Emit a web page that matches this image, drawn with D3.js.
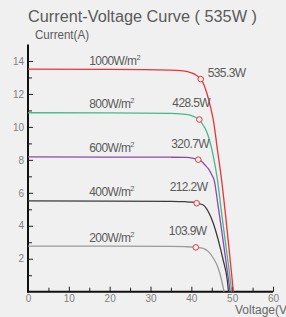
<!DOCTYPE html>
<meta charset="utf-8">
<style>
body { margin: 0; background: #f0f0f0; }
svg { display: block; font-family: "Liberation Sans", Arial, sans-serif; }
.tick text { fill: #808080; font-size: 10px; }
.lbl { fill: #5a5a5a; font-size: 12px; letter-spacing: -0.6px; }
</style>
<body>
<svg width="286" height="317"></svg>
<script src="https://cdnjs.cloudflare.com/ajax/libs/d3/7.8.5/d3.min.js"></script>
<script>

// irradiance series
var irradiance = ["1000", "800", "600", "400", "200"];
var colors = ["#e8343c", "#45b98b", "#8c4aa6", "#3a3a3a", "#9a9a9a"];
var power = ["535.3W", "428.5W", "320.7W", "212.2W", "103.9W"];

// I-V points
var volts1000 = [0, 20, 35, 38, 40, 41.3, 42.3, 43.1, 43.8, 44.7, 45.4, 46.4, 47.4, 48.4, 49.4, 50.3];
var amps1000  = [13.5, 13.49, 13.45, 13.4, 13.28, 13.12, 12.9, 12.55, 12.04, 11.2, 10.4, 8.6, 6.8, 4.6, 2.2, 0];
var volts800 = [0, 20, 35, 38, 39.7, 40.9, 41.96, 42.9, 43.6, 44.2, 45.4, 46.4, 47.4, 48.4, 49.2, 49.9];
var amps800  = [10.86, 10.85, 10.82, 10.77, 10.72, 10.6, 10.45, 10.1, 9.8, 9.4, 8.2, 6.78, 4.8, 2.9, 1.4, 0];
var volts600 = [0, 20, 35, 38.9, 40.5, 41.7, 42.6, 43.3, 44.2, 45.0, 45.6, 46.5, 47.5, 48.5, 49.5];
var amps600  = [8.18, 8.17, 8.16, 8.15, 8.09, 8.01, 7.88, 7.7, 7.45, 7.1, 6.75, 5.3, 3.6, 1.8, 0];
var volts400 = [0, 20, 35, 38.5, 40.3, 41.3, 42.9, 44.2, 45.4, 46.6, 47.8, 48.8, 49.1];
var amps400  = [5.51, 5.5, 5.48, 5.46, 5.43, 5.37, 5.26, 4.84, 4.14, 3.13, 1.92, 0.71, 0];
var volts200 = [0, 20, 35, 38.5, 40.3, 41.1, 42.9, 44.2, 45.4, 46.6, 47.4, 48.0];
var amps200  = [2.77, 2.76, 2.75, 2.73, 2.71, 2.69, 2.63, 2.43, 2.03, 1.42, 0.71, 0];

// max power points
var mpVolts = [42.3, 41.96, 41.7, 41.3, 41.1];
var mpAmps  = [12.9, 10.45, 8.01, 5.37, 2.69];

var xTicks = [0, 10, 20, 30, 40, 50, 60];
var yTicks = [2, 4, 6, 8, 10, 12, 14];

var curves = [
  [volts1000, amps1000], [volts800, amps800], [volts600, amps600],
  [volts400, amps400], [volts200, amps200]
];

var svg = d3.select("svg");

var x = d3.scaleLinear().domain([0, 60]).range([28, 273]);
var y = d3.scaleLinear().domain([0, 15]).range([291.7, 44.5]);

// title + axis names
svg.append("text")
    .attr("x", 28).attr("y", 22)
    .attr("textLength", 229).attr("lengthAdjust", "spacingAndGlyphs")
    .style("font-size", "16px").style("fill", "#5a5a5a")
    .text("Current-Voltage Curve ( 535W )");

svg.append("text")
    .attr("x", 35).attr("y", 39)
    .attr("textLength", 54).attr("lengthAdjust", "spacingAndGlyphs")
    .style("font-size", "12px").style("fill", "#5a5a5a")
    .text("Current(A)");

svg.append("text")
    .attr("x", 235).attr("y", 314)
    .style("font-size", "12px").style("fill", "#666")
    .text("Voltage(V)");

// minor ticks
svg.append("g")
    .attr("transform", "translate(0,291.7)")
    .call(d3.axisTop(x).tickValues(d3.range(5, 60, 10)).tickSize(4).tickFormat(""))
    .call(g => g.select(".domain").remove())
    .selectAll("line").attr("stroke", "#222");

svg.append("g")
    .attr("transform", "translate(28,0)")
    .call(d3.axisRight(y).tickValues(d3.range(1, 15, 2)).tickSize(4).tickFormat(""))
    .call(g => g.select(".domain").remove())
    .selectAll("line").attr("stroke", "#222");

// major ticks
var xAxis = svg.append("g")
    .attr("transform", "translate(0,291.7)")
    .call(d3.axisTop(x).tickValues(xTicks).tickSize(5).tickPadding(0));
xAxis.select(".domain").remove();
xAxis.selectAll(".tick line").attr("stroke", "#222");
xAxis.selectAll(".tick text").attr("y", 10).attr("dy", "0");

var yAxis = svg.append("g")
    .attr("transform", "translate(28,0)")
    .call(d3.axisRight(y).tickValues(yTicks).tickSize(5));
yAxis.select(".domain").remove();
yAxis.selectAll(".tick line").attr("stroke", "#222");
yAxis.selectAll(".tick text").attr("x", -4).attr("text-anchor", "end");

// axis lines
svg.append("line")
    .attr("x1", x(0)).attr("x2", x(0)).attr("y1", y(15)).attr("y2", y(0) + 1)
    .attr("stroke", "#111").attr("stroke-width", 2);
svg.append("line")
    .attr("x1", x(0) - 1).attr("x2", x(60)).attr("y1", y(0)).attr("y2", y(0))
    .attr("stroke", "#111").attr("stroke-width", 2);

var line = d3.line()
    .x(d => x(d[0]))
    .y(d => y(d[1]))
    .curve(d3.curveMonotoneX);

// draw lower irradiance first so red sits on top
for (var i = curves.length - 1; i >= 0; i--) {
  var pts = curves[i][0].map((v, k) => [v, curves[i][1][k]]);
  svg.append("path")
      .datum(pts)
      .attr("d", line)
      .attr("fill", "none")
      .attr("stroke", colors[i])
      .attr("stroke-width", 1.3);
}

// irradiance labels
irradiance.forEach(function(s, i) {
  var t = svg.append("text")
      .attr("class", "lbl")
      .attr("x", x(15))
      .attr("y", y(curves[i][1][0]) - 4.5)
      .text(s + "W/m");
  t.append("tspan")
      .attr("dy", -5)
      .style("font-size", "7.5px")
      .text("2");
});

// max power markers
mpVolts.forEach(function(v, i) {
  svg.append("circle")
      .attr("cx", x(v)).attr("cy", y(mpAmps[i]))
      .attr("r", 2.8)
      .attr("fill", "#f0f0f0")
      .attr("stroke", "#e8343c")
      .attr("stroke-width", 1);

  svg.append("text")
      .attr("class", "lbl")
      .attr("x", i == 0 ? x(v) + 7 : x(v) - 27)
      .attr("y", i == 0 ? y(mpAmps[i]) - 2 : y(mpAmps[i]) - 12)
      .text(power[i]);
});

</script>
</body>
